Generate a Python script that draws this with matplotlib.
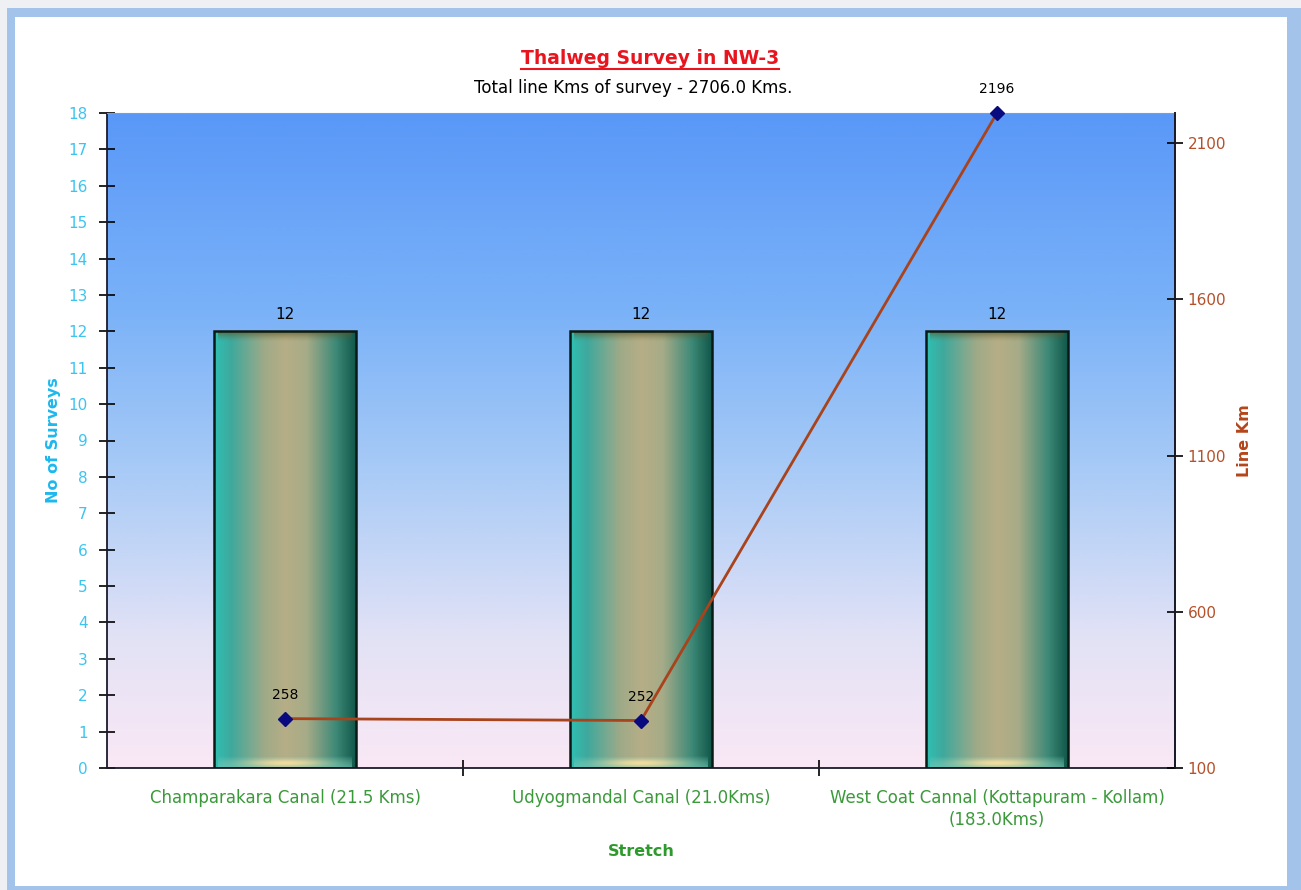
import numpy as np
import matplotlib
matplotlib.use("Agg")
import matplotlib.pyplot as plt
from matplotlib.patches import Rectangle
from matplotlib.colors import LinearSegmentedColormap

categories = ["Champarakara Canal (21.5 Kms)", "Udyogmandal Canal (21.0Kms)",
              "West Coat Cannal (Kottapuram - Kollam)\n(183.0Kms)"]
surveys = [12, 12, 12]
line_km = [258, 252, 2196]
left_ticks = list(range(0, 19))
right_ticks = [100, 600, 1100, 1600, 2100]

plt.rcParams['font.family'] = ['DejaVu Sans']

fig = plt.figure(figsize=(13.01, 8.90), dpi=100)
W, H = 1301, 890

def fr(x0, y0, x1, y1, color):
    fig.patches.append(Rectangle((x0 / W, 1 - y1 / H), (x1 - x0) / W, (y1 - y0) / H,
                                 transform=fig.transFigure, facecolor=color,
                                 edgecolor='none', zorder=-10))

fr(0, 0, W, H, '#eef0f4')
fr(7, 8, W, H, '#a4c3ea')
fr(15, 17, 1287, 886, 'white')

ax = fig.add_axes([107 / W, 1 - 768 / H, (1175 - 107) / W, (768 - 113) / H])
ax.set_xlim(-0.5, 2.5)
ax.set_ylim(0, 18)

# background gradient
bg = LinearSegmentedColormap.from_list('bg', [
    (0.0, '#fae8f5'), (0.2, '#e2e2f6'), (0.45, '#a9cbf6'),
    (0.7, '#7ab2f8'), (1.0, '#5a98f8')])
grad = np.linspace(0, 1, 256).reshape(-1, 1)
ax.imshow(grad, cmap=bg, aspect='auto', extent=(-0.5, 2.5, 0, 18),
          origin='lower', zorder=0)

# bars with horizontal gradient
barcmap = LinearSegmentedColormap.from_list('bar', [
    (0.0, '#2fc0b4'), (0.12, '#3fa89c'), (0.35, '#9eaa88'), (0.5, '#b6ae86'),
    (0.65, '#a6ab88'), (0.85, '#3f8a78'), (1.0, '#0f5548')])
hgrad = np.linspace(0, 1, 256).reshape(1, -1)
bw = 0.4
bars = ax.bar(range(len(categories)), surveys, width=bw, facecolor='none',
              edgecolor='#0a1a14', linewidth=1.8, zorder=3)

n = 200
xs = np.linspace(0, 1, n)
for b, v in zip(bars, surveys):
    x0 = b.get_x()
    im = ax.imshow(hgrad, cmap=barcmap, aspect='auto',
                   extent=(x0, x0 + bw, 0, v), zorder=2)
    im.set_clip_path(b)
    ys = np.linspace(0, 1, 40)
    # top dark bevel
    top = np.zeros((40, n, 4))
    top[..., 0] = 0.35
    top[..., 1] = 0.33
    top[..., 2] = 0.15
    top[..., 3] = (ys[:, None] ** 1.5) * 0.75 * np.ones((1, n))
    ax.imshow(top, aspect='auto', origin='lower',
              extent=(x0 + 0.012, x0 + bw - 0.012, v - 0.3, v), zorder=2.4)
    # bottom lighter band
    band = np.zeros((40, n, 4))
    band[..., 0] = 0.45
    band[..., 1] = 0.80
    band[..., 2] = 0.74
    band[..., 3] = ((1 - ys[:, None]) ** 0.7 * 0.65) * np.ones((1, n))
    ax.imshow(band, aspect='auto', origin='lower',
              extent=(x0 + 0.012, x0 + bw - 0.012, 0, 0.32), zorder=2.4)
    # peach highlight
    hl = np.zeros((40, n, 4))
    hl[..., 0] = 0.98
    hl[..., 1] = 0.87
    hl[..., 2] = 0.62
    prof_x = np.exp(-((xs - 0.5) / 0.28) ** 2)
    prof_y = np.exp(-((ys - 0.4) / 0.4) ** 2)
    hl[..., 3] = prof_y[:, None] * prof_x[None, :] * 0.95
    ax.imshow(hl, aspect='auto', origin='lower',
              extent=(x0 + 0.02, x0 + bw - 0.02, 0.03, 0.3), zorder=2.5)
    ax.text(b.get_x() + bw / 2, v + 0.25, str(v), ha='center', va='bottom',
            fontsize=11, color='black', zorder=6)

ax.set_yticks(left_ticks)
ax.tick_params(axis='y', colors='black', labelcolor='#3cc4f0', labelsize=11,
               direction='inout', length=12, width=1.2, pad=8)
ax.set_xticks([0.5, 1.5])
ax.set_xticklabels([])
ax.set_xticks([0, 1, 2], minor=True)
ax.set_xticklabels(categories, minor=True, color='#3a9a3a', fontsize=12,
                   linespacing=1.3)
ax.tick_params(axis='x', which='major', direction='inout', length=12, width=1.2)
ax.tick_params(axis='x', which='minor', length=0, pad=15)
for s in ['left', 'bottom', 'right']:
    ax.spines[s].set_color('#1a1a2a')
    ax.spines[s].set_linewidth(1.3)
ax.spines['top'].set_color('#8a9ab0')
ax.spines['top'].set_linewidth(0.8)

ax.set_ylabel('No of Surveys', color='#1cb8ee', fontsize=11.5, fontweight='bold', labelpad=5)
ax.set_xlabel('Stretch', color='#2e9a2e', fontsize=11.5, fontweight='bold', labelpad=11)

ax2 = ax.twinx()
ax2.set_ylim(100, 2196)
ax2.set_yticks(right_ticks)
ax2.tick_params(axis='y', colors='black', labelcolor='#b5502a', labelsize=11,
                direction='inout', length=12, width=1.2, pad=3)
for s in ['left', 'bottom', 'top']:
    ax2.spines[s].set_visible(False)
ax2.spines['right'].set_color('#1a1a2a')
ax2.spines['right'].set_linewidth(1.3)
ax2.plot(range(len(categories)), line_km, color='#a8431c', linewidth=2,
         marker='D', markersize=7, markerfacecolor='#0a0a80',
         markeredgecolor='#0a0a80', zorder=5, clip_on=False)
for i, v in enumerate(line_km):
    ax2.annotate(str(v), (i, v), xytext=(0, 12), textcoords='offset points',
                 ha='center', va='bottom', fontsize=10, color='black')
ax2.set_ylabel('Line Km', color='#b5451b', fontsize=11.5, fontweight='bold', labelpad=8)

fig.text(650 / W, 1 - 58 / H, 'Thalweg Survey in NW-3', ha='center', va='center',
         color='#e8141e', fontsize=13.5, fontweight='bold')
fig.add_artist(plt.Line2D([521 / W, 779 / W], [1 - 69 / H, 1 - 69 / H],
                          color='#e8141e', linewidth=1.5, transform=fig.transFigure))
fig.text(633 / W, 1 - 88 / H, 'Total line Kms of survey - 2706.0 Kms.', ha='center',
         va='center', color='black', fontsize=12)

fig.savefig('out.png', dpi=100)
